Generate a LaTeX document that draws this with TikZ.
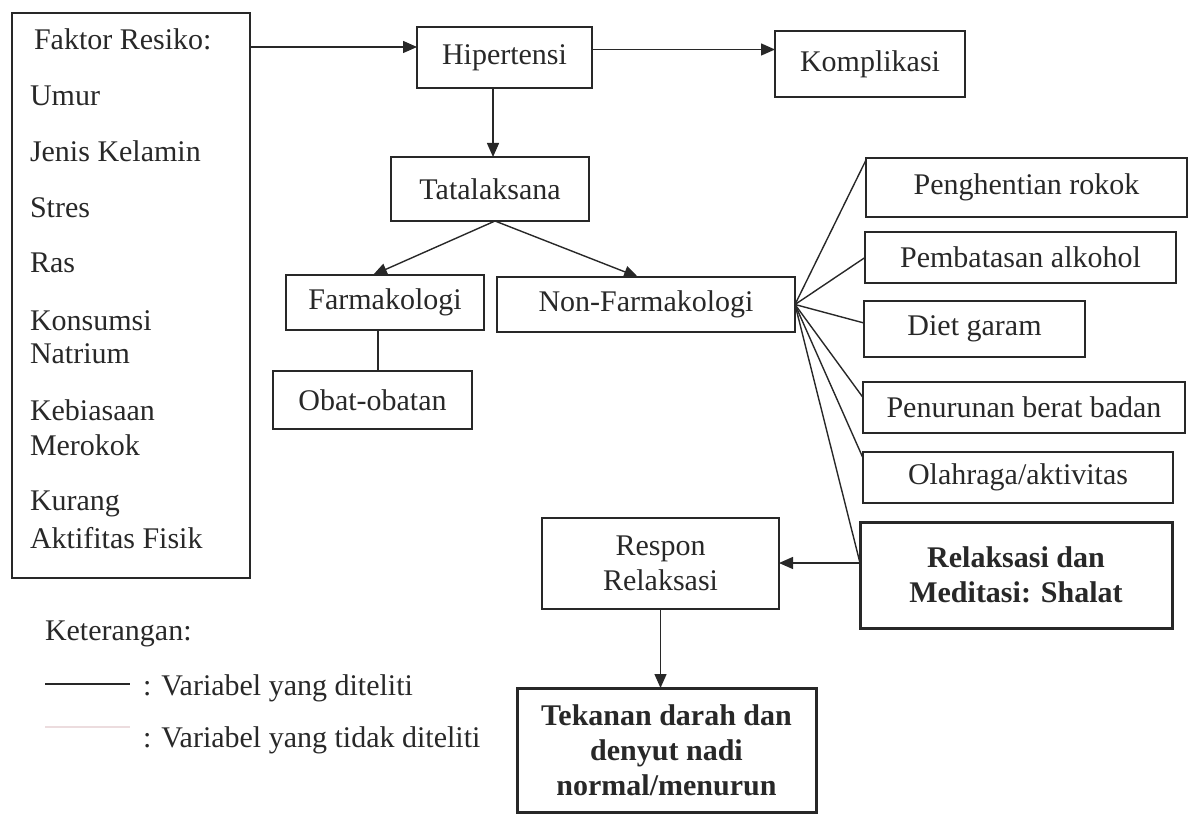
\documentclass[tikz,border=0pt]{standalone}
\usepackage{fontspec}
\setmainfont{Liberation Serif}
\usetikzlibrary{arrows.meta}
\definecolor{ink}{RGB}{40,40,40}
\definecolor{faint}{RGB}{236,220,222}
\begin{document}
\begin{tikzpicture}[x=1pt,y=-1pt,
  every node/.style={font=\fontsize{30}{35}\selectfont, text=ink},
  box/.style={draw=ink, line width=1.5pt, inner sep=0pt, outer sep=0pt, align=center},
  thickbox/.style={box, line width=3pt, font=\fontsize{30}{35}\selectfont\bfseries},
  lbl/.style={anchor=base west, inner sep=0pt, outer sep=0pt},
  conn/.style={draw=ink, line width=1.4pt},
  arr/.style={conn, -{Triangle[length=14pt,width=12pt]}},
]
\useasboundingbox (0,0) rectangle (1190,813);

% left risk-factor box
\node[box, minimum width=238pt, minimum height=565pt] (risk) at (131,295.5) {};
\node[lbl] (f0) at (34,50) {Faktor Resiko:};
\node[lbl] (f1) at (30,106) {Umur};
\node[lbl] (f2) at (30,162) {Jenis Kelamin};
\node[lbl] (f3) at (30,217) {Stres};
\node[lbl] (f4) at (30,272) {Ras};
\node[lbl] (f5) at (30,330) {Konsumsi};
\node[lbl] (f6) at (30,363) {Natrium};
\node[lbl] (f7) at (30,420) {Kebiasaan};
\node[lbl] (f8) at (30,455) {Merokok};
\node[lbl] (f9) at (30,510) {Kurang};
\node[lbl] (f10) at (30,548) {Aktifitas Fisik};

% main chain
\node[box, minimum width=175pt, minimum height=61pt] (hip) at (504.5,57.5) {Hipertensi};
\node[box, minimum width=190pt, minimum height=66pt] (kom) at (870,64) {Komplikasi};
\node[box, minimum width=198pt, minimum height=64pt] (tata) at (490,189) {Tatalaksana};
\node[box, minimum width=198pt, minimum height=55pt] (farm) at (385,302.5) {Farmakologi};
\node[box, minimum width=298pt, minimum height=55pt] (nonf) at (646,304.5) {Non-Farmakologi};
\node[box, minimum width=199pt, minimum height=58pt] (obat) at (372.5,400) {Obat-obatan};

% right column
\node[box, minimum width=321pt, minimum height=59pt] (rok) at (1026.5,187.5) {Penghentian rokok};
\node[box, minimum width=311pt, minimum height=51pt] (alk) at (1020.5,257.5) {Pembatasan alkohol};
\node[box, minimum width=221pt, minimum height=56pt] (diet) at (974.5,329) {Diet garam};
\node[box, minimum width=322pt, minimum height=51pt] (bb) at (1024,407.5) {Penurunan berat badan};
\node[box, minimum width=310pt, minimum height=51pt] (ola) at (1018,477.5) {Olahraga/aktivitas};
\node[thickbox, minimum width=312pt, minimum height=106pt] (rel) at (1016,575) {Relaksasi dan\\Meditasi: Shalat};

\node[box, minimum width=237pt, minimum height=91pt] (resp) at (660.5,563.5) {Respon\\Relaksasi};
\node[thickbox, minimum width=299pt, minimum height=124pt] (tek) at (666.5,750) {Tekanan darah dan\\denyut nadi\\normal/menurun};

% connectors
\draw[arr] ([yshift=10.5pt]hip.west -| risk.east) -- ([yshift=10.5pt]hip.west);
\draw[arr] ([yshift=8pt]hip.east) -- ([yshift=8pt]hip.east -| kom.west);
\draw[arr] ([xshift=-11.5pt]hip.south) -- ([xshift=-11.5pt]hip.south |- tata.north);
\draw[arr] ([xshift=5pt]tata.south) -- ([xshift=-12pt]farm.north);
\draw[arr] ([xshift=5pt]tata.south) -- ([xshift=-8pt]nonf.north);
\draw[conn] ([xshift=-7pt]farm.south) -- ([xshift=-7pt]farm.south |- obat.north);

\draw[conn] (nonf.east) -- ([yshift=-2pt]rok.north west);
\draw[conn] (nonf.east) -- (alk.west);
\draw[conn] (nonf.east) -- ([yshift=6pt]diet.west);
\draw[conn] (nonf.east) -- ([yshift=10pt]bb.west);
\draw[conn] (nonf.east) -- ([yshift=-6pt]ola.north west);
\draw[conn] (nonf.east) -- ([yshift=12pt]rel.west);
\draw[arr] ([yshift=12pt]rel.west) -- ([yshift=12pt]rel.west -| resp.east);
\draw[arr] (resp.south) -- (resp.south |- tek.north);

% legend
\node[lbl] (ket) at (45,640) {Keterangan:};
\coordinate (l1a) at (45,684);
\coordinate (l1b) at (130,684);
\coordinate (l2a) at (45,727);
\coordinate (l2b) at (130,727);
\draw[conn] (l1a) -- (l1b);
\draw[draw=faint, line width=1.3pt] (l2a) -- (l2b);
\node[lbl] (lt1) at (143,695) {: Variabel yang diteliti};
\node[lbl] (lt2) at (143,747) {: Variabel yang tidak diteliti};
\end{tikzpicture}
\end{document}
